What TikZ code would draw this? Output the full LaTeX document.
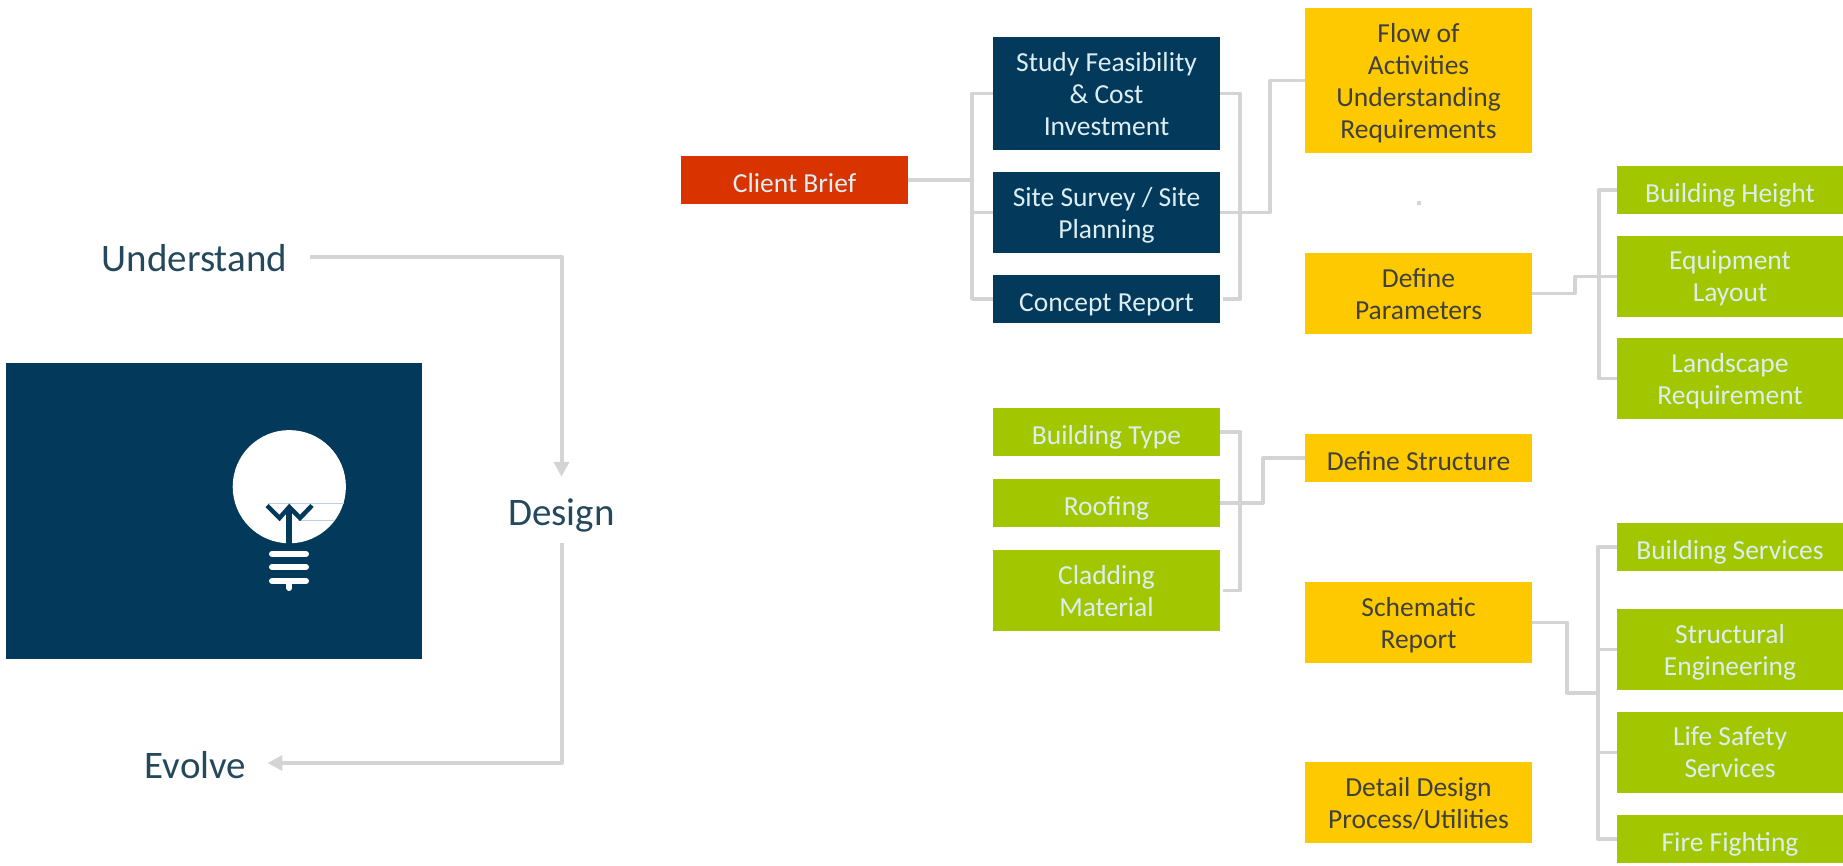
\documentclass[tikz,border=0pt]{standalone}
\usepackage{fontspec}
\setmainfont{Carlito}
\usepackage{xcolor}
\usepackage{tikz}
\usetikzlibrary{arrows.meta,calc}

\definecolor{navy}{HTML}{033A5C}
\definecolor{brick}{HTML}{D93300}
\definecolor{amber}{HTML}{FFC900}
\definecolor{leaf}{HTML}{A2C700}
\definecolor{wire}{HTML}{D4D4D4}
\definecolor{hair}{HTML}{BFCFDC}
\definecolor{inktitle}{HTML}{25495C}
\definecolor{inkdark}{HTML}{404040}
\definecolor{inklight}{HTML}{DDEEF2}

\tikzset{
	box/.style={rectangle, inner sep=0pt, minimum width=227pt, align=center, text depth=0pt,
		font=\fontsize{27.5}{32}\selectfont},
	lowbox/.style={box, minimum height=48pt, execute at begin node={\rule{0pt}{25pt}}},
	midbox/.style={box, minimum height=81pt, execute at begin node={\rule{0pt}{29pt}}},
	navybox/.style={fill=navy, text=inklight},
	amberbox/.style={fill=amber, text=inkdark},
	leafbox/.style={fill=leaf, text=inklight},
	title/.style={inner sep=0pt, text=inktitle, text height=30pt, text depth=0pt,
		font=\fontsize{39}{42}\selectfont},
	wireline/.style={draw=wire, line width=3.5pt, line join=round},
	flowline/.style={draw=wire, line width=4pt, line join=round,
		-{Triangle[width=15pt,length=15pt]}}
}

\begin{document}
\begin{tikzpicture}[x=1pt,y=-1pt]
	\useasboundingbox (0,0) rectangle (1843,866);

	% Lamp panel
	\fill[navy] (6,363) rectangle (422,659);
	\fill[white] (289.3,486.7) circle (56.6);
	\draw[hair, line width=0.7pt] (268,503.3) -- (344,503.3);
	\draw[hair, line width=0.7pt] (298,520) -- (335,520);
	\draw[navy, line width=4.5pt] (267,505.5) -- (279.5,518) -- (289.3,507) -- (300,518) -- (312,505.5);
	\draw[navy, line width=6pt] (289.3,507) -- (289.3,544);
	\foreach \y in {554,567,581} {
		\draw[white, line width=6pt, line cap=round] (272,\y) -- (306,\y);
	}
	\draw[white, line width=6pt, line cap=round] (289.3,581) -- (289.3,588);

	% Left column
	\node[title] (understand) at (194.5,257) {Understand};
	\node[title] (design) at (561.5,510) {Design};
	\node[title] (evolve) at (195.5,763) {Evolve};
	\draw[flowline, shorten <=23pt, shorten >=18pt] (understand.east) -| (design.north);
	\draw[flowline, shorten <=18pt, shorten >=21pt] (design.south) |- (evolve.east);

	% Brief and first studies
	\node[lowbox, fill=brick, text=inklight] (client) at (794.5,180) {Client Brief};
	\node[midbox, navybox, minimum height=113pt] (study) at (1106.5,93.5) {Study Feasibility\\\& Cost\\Investment};
	\node[midbox, navybox] (site) at (1106.5,212.5) {Site Survey / Site\\Planning};
	\node[lowbox, navybox] (concept) at (1106.5,299) {Concept Report};

	% Middle column
	\node[midbox, amberbox, minimum height=145pt] (flow) at (1418.5,80.5) {Flow of\\Activities\\Understanding\\Requirements};
	\node[midbox, amberbox] (param) at (1418.5,293.5) {Define\\Parameters};
	\node[lowbox, amberbox] (struct) at (1418.5,458) {Define Structure};
	\node[midbox, amberbox] (schem) at (1418.5,622.5) {Schematic\\Report};
	\node[midbox, amberbox] (detail) at (1418.5,802.5) {Detail Design\\Process/Utilities};
	\fill[wire] (1417,201) rectangle (1421,205);

	% Building options
	\node[lowbox, leafbox] (btype) at (1106.5,432) {Building Type};
	\node[lowbox, leafbox] (roof) at (1106.5,503) {Roofing};
	\node[midbox, leafbox] (clad) at (1106.5,590.5) {Cladding\\Material};

	% Right column
	\node[lowbox, leafbox, minimum width=226pt] (height) at (1730,190) {Building Height};
	\node[midbox, leafbox, minimum width=226pt] (equip) at (1730,276.5) {Equipment\\Layout};
	\node[midbox, leafbox, minimum width=226pt] (land) at (1730,378.5) {Landscape\\Requirement};
	\node[lowbox, leafbox, minimum width=226pt] (bserv) at (1730,547) {Building Services};
	\node[midbox, leafbox, minimum width=226pt] (engin) at (1730,649.5) {Structural\\Engineering};
	\node[midbox, leafbox, minimum width=226pt] (life) at (1730,752.5) {Life Safety\\Services};
	\node[lowbox, leafbox, minimum width=226pt] (fire) at (1730,839) {Fire Fighting};

	% Connectors
	\coordinate (clientbus) at (972,180);
	\draw[wireline] (client.east) -- (clientbus);
	\draw[wireline] (study.west) -| (clientbus) |- (concept.west);
	\draw[wireline] (site.west) -- (site.west -| clientbus);
	\draw[wireline] (study.east) -- ++(20,0) |- ($(concept.east)+(3,0)$);
	\draw[wireline] (site.east) -- ++(50,0) |- (flow.west);
	\draw[wireline] (btype.east) -- ++(20,0) |- ($(clad.east)+(3,0)$);
	\draw[wireline] (roof.east) -- ++(43,0) |- (struct.west);
	\draw[wireline] (param.east) -- ++(43,0) |- (equip.west);
	\draw[wireline] (height.west) -- ++(-18,0) |- (land.west);

	\coordinate (servbus) at (1598,693);
	\draw[wireline] (schem.east) -- ++(35,0) |- (servbus);
	\draw[wireline] (bserv.west) -- ++(-19,0) |- (fire.west);
	\foreach \n in {engin,life} {
		\draw[wireline] (\n.west) -- ++(-19,0);
	}
\end{tikzpicture}
\end{document}
